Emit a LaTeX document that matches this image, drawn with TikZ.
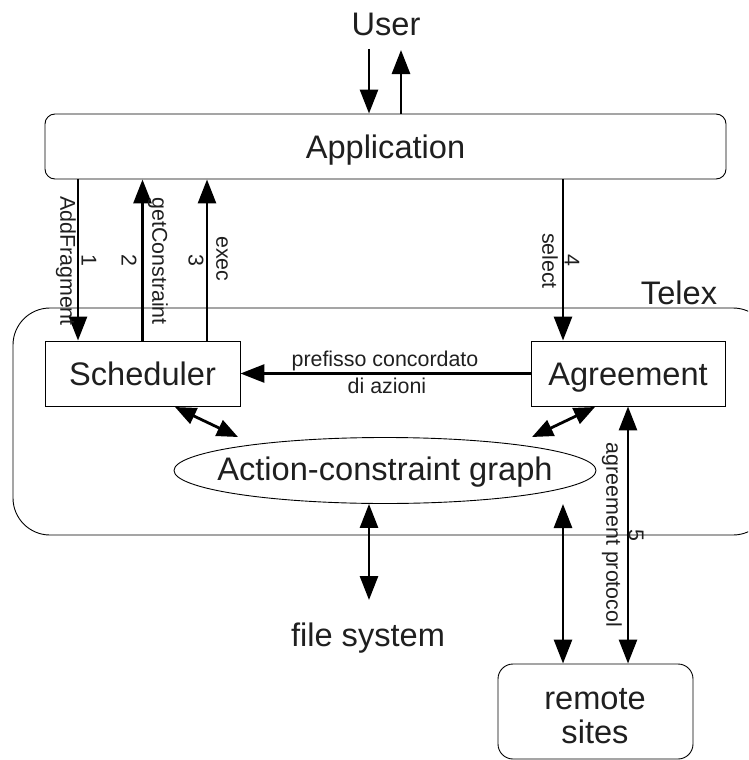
\documentclass[tikz,border=0pt]{standalone}
\usepackage{fontspec}
\setmainfont{Liberation Sans}
\usetikzlibrary{arrows.meta,shapes.geometric}
\begin{document}
\begin{tikzpicture}[x=1pt,y=-1pt,
  big/.style={font=\fontsize{32.6}{36}\selectfont, text=black!88, text height=23.3pt, text depth=0pt},
  small/.style={font=\fontsize{21.4}{24}\selectfont, text=black!88},
  box/.style={draw, line width=0.9pt, inner sep=0pt},
  arr/.style={line width=2.8pt, -{Triangle[length=24pt,width=18pt]}},
  darr/.style={line width=2.8pt, {Triangle[length=24pt,width=18pt]}-{Triangle[length=24pt,width=18pt]}},
  sdarr/.style={line width=2.8pt, {Triangle[length=21pt,width=17pt]}-{Triangle[length=21pt,width=17pt]}},
  lab/.style={small, rotate=-90, inner sep=0pt}]
\clip (0,0) rectangle (748,760);
% containers
\node[box, rounded corners=37pt, minimum width=757pt, minimum height=227pt] (telex) at (391.5,421.5) {};
\node[big, inner sep=0pt] (telexlabel) at (679,292.5) {Telex};
\node[big, inner sep=0pt] (user) at (386,24) {User};
\node[box, big, rounded corners=10pt, minimum width=681pt, minimum height=65pt] (app) at (385.5,146.5) {Application};
\node[box, big, minimum width=195pt, minimum height=65pt] (sched) at (142.5,373.5) {Scheduler};
\node[box, big, minimum width=194pt, minimum height=65pt] (agree) at (628,373.5) {Agreement};
\node[box, ellipse, minimum width=422pt, minimum height=66pt] (acg) at (385,470.5) {};
\node[big, inner sep=0pt] (acgtext) at (385,469) {Action-constraint graph};
\node[big, inner sep=0pt] (fs) at (368,635) {file system};
\node[box, rounded corners=15pt, minimum width=195pt, minimum height=95pt] (remote) at (595.5,711.5) {};
\node[big, anchor=base, inner sep=0pt] (remote1) at (595,709) {remote};
\node[big, anchor=base, inner sep=0pt] (remote2) at (595,743) {sites};
% helper coordinates
\coordinate (u1) at (369,49);
\coordinate (u2) at (401,50);
\coordinate (x1) at (78,0);
\coordinate (x3) at (207,0);
\coordinate (x4) at (563,0);
\coordinate (xfs) at (369,0);
\coordinate (fsend) at (369,600);
\coordinate (rs) at (563,504);
\coordinate (d1a) at (175,407);
\coordinate (d1b) at (238,437);
\coordinate (d2a) at (595,407);
\coordinate (d2b) at (532,437);
% user arrows
\draw[arr] (u1) -- (app.north -| u1);
\draw[arr] (app.north -| u2) -- (u2);
% application <-> telex
\draw[arr] (app.south -| x1) -- (sched.north -| x1);
\draw[arr] (sched.north) -- (app.south -| sched.north);
\draw[arr] (sched.north -| x3) -- (app.south -| x3);
\draw[arr] (app.south -| x4) -- (agree.north -| x4);
\node[lab] (l1a) at (66,261) {AddFragment};
\node[lab] (l1b) at (89,260) {1};
\node[lab] (l2b) at (129,260) {2};
\node[lab] (l2a) at (158,261) {getConstraint};
\node[lab] (l3b) at (196,260) {3};
\node[lab] (l3a) at (222,259) {exec};
\node[lab] (l4a) at (550,261) {select};
\node[lab] (l4b) at (572,260) {4};
% agreement -> scheduler
\draw[arr] (agree.west) -- (sched.east);
\node[small, inner sep=0pt] (pref1) at (385,361) {prefisso concordato};
\node[small, inner sep=0pt] (pref2) at (387,386) {di azioni};
% diagonals
\draw[sdarr] (d1a) -- (d1b);
\draw[sdarr] (d2a) -- (d2b);
% file system
\draw[darr] (acg.south -| xfs) -- (fsend);
% remote sites
\draw[darr] (rs) -- (remote.north -| rs);
\draw[darr] (agree.south) -- (remote.north -| agree.south);
\node[lab] (l5a) at (612,535) {agreement protocol};
\node[lab] (l5b) at (636,535) {5};
\end{tikzpicture}
\end{document}
